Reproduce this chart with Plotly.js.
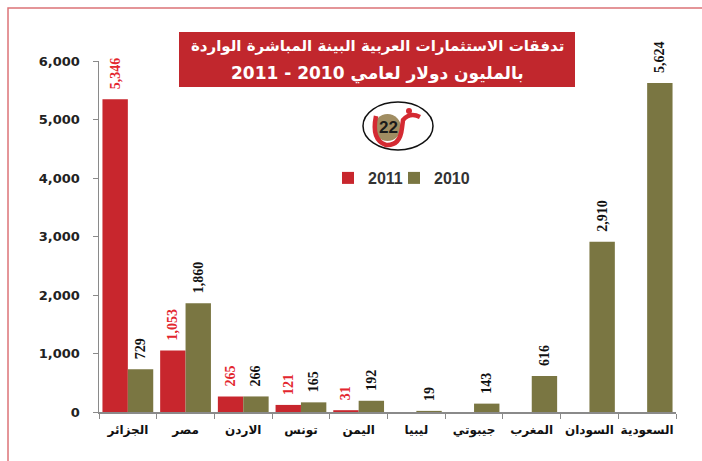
<!DOCTYPE html>
<html>
<head>
<meta charset="utf-8">
<script src="https://cdn.plot.ly/plotly-3.0.1.min.js"></script>
<style>html,body{margin:0;padding:0;background:#fff;}#chart{width:702px;height:461px;}</style>
</head>
<body>
<div id="chart"></div>
<script>
// Data
const categories = ["الجزائر", "مصر", "الاردن", "تونس", "اليمن", "ليبيا", "جيبوتي", "المغرب", "السودان", "السعودية"];
const values2011 = [5346, 1053, 265, 121, 31, null, null, null, null, null];
const values2010 = [729, 1860, 266, 165, 192, 19, 143, 616, 2910, 5624];
const seriesNames = ["2011", "2010"];
const titleLine1 = "تدفقات الاستثمارات العربية البينة المباشرة الواردة";
const titleLine2 = "2011 - 2010 بالمليون دولار لعامي";
const yTickVals = [0, 1000, 2000, 3000, 4000, 5000, 6000];

// Layout geometry (pixels)
const W = 702, H = 461;
const L = 99, R = 26, T = 61, B = 49;
const pw = W - L - R, ph = H - T - B;
const px = x => (x - L) / pw;
const py = y => (H - B - y) / ph;
function path(pts) {
  return pts.map(p => p[0] + ' ' + px(p[1]).toFixed(4) + ',' + py(p[2]).toFixed(4)).join(' ');
}

const RED = '#c8262d', OLIVE = '#7a7642';
const labelFont = {family: 'Liberation Serif, Times New Roman, serif', size: 14, weight: 700};
const legendFont = {family: 'Liberation Sans, Arial, sans-serif', size: 16, weight: 700, color: '#333'};

const traces = [
  {
    type: 'bar', name: seriesNames[0], x: categories, y: values2011,
    marker: {color: RED, line: {width: 0}}, legend: 'legend',
    texttemplate: '\u00a0\u00a0%{y:,}', textposition: 'outside', textangle: -90,
    textfont: Object.assign({color: '#e3262e'}, labelFont),
    cliponaxis: false, constraintext: 'none', hoverinfo: 'x+y'
  },
  {
    type: 'bar', name: seriesNames[1], x: categories, y: values2010,
    marker: {color: OLIVE, line: {width: 0}}, legend: 'legend2',
    texttemplate: '\u00a0\u00a0%{y:,}', textposition: 'outside', textangle: -90,
    textfont: Object.assign({color: '#111'}, labelFont),
    cliponaxis: false, constraintext: 'none', hoverinfo: 'x+y'
  }
];

const layout = {
  width: W, height: H,
  margin: {l: L, r: R, t: T, b: B, pad: 0},
  paper_bgcolor: '#fff', plot_bgcolor: '#fff',
  barmode: 'group', bargap: 0.12, bargroupgap: 0,
  showlegend: true,
  legend: {
    orientation: 'h', x: px(328), xanchor: 'left', y: py(178), yanchor: 'middle',
    font: legendFont, bgcolor: 'rgba(0,0,0,0)', itemwidth: 30
  },
  legend2: {
    orientation: 'h', x: px(394), xanchor: 'left', y: py(178), yanchor: 'middle',
    font: legendFont, bgcolor: 'rgba(0,0,0,0)', itemwidth: 30
  },
  xaxis: {
    type: 'category', showgrid: false, zeroline: false,
    showline: true, linecolor: '#8a8a8a', linewidth: 1.5,
    ticks: 'outside', tickson: 'boundaries', ticklen: 5, tickcolor: '#8a8a8a',
    tickangle: 0,
    tickfont: {family: 'DejaVu Sans, sans-serif', size: 12, weight: 700, color: '#111'},
    ticklabelstandoff: 6, fixedrange: true
  },
  yaxis: {
    range: [0, 6000], tickvals: yTickVals, tickformat: ',d',
    showgrid: false, zeroline: false,
    showline: true, linecolor: '#8a8a8a', linewidth: 1.5,
    ticks: 'outside', ticklen: 5, tickcolor: '#8a8a8a',
    tickfont: {family: 'DejaVu Sans, sans-serif', size: 13, weight: 700, color: '#222'},
    ticklabelstandoff: 10, fixedrange: true
  },
  shapes: [
    // outer frame (top and left)
    {type: 'path', xref: 'paper', yref: 'paper', layer: 'above',
     path: path([['M', 8, 461], ['L', 8, 8], ['L', 702, 8]]),
     line: {color: '#dc7377', width: 1.5}},
    // title box
    {type: 'rect', xref: 'paper', yref: 'paper', layer: 'above',
     x0: px(179), x1: px(575), y0: py(87), y1: py(32),
     fillcolor: '#c1272d', line: {width: 0}},
    // logo ellipse
    {type: 'circle', xref: 'paper', yref: 'paper', layer: 'above',
     x0: px(363), x1: px(433), y0: py(150), y1: py(102),
     fillcolor: '#fff', line: {color: '#111', width: 1.5}},
    // gold disc
    {type: 'circle', xref: 'paper', yref: 'paper', layer: 'above',
     x0: px(374), x1: px(401), y0: py(141), y1: py(114),
     fillcolor: '#a08d62', line: {width: 0}},
    // red letter stroke
    {type: 'path', xref: 'paper', yref: 'paper', layer: 'above',
     path: path([['M', 376, 116], ['Q', 371, 140], ['', 386, 145], ['Q', 400, 146], ['', 402, 128], ['L', 403, 120], ['Q', 410, 112], ['', 420, 117]]),
     line: {color: '#d42a32', width: 4.5}},
    // red dot
    {type: 'circle', xref: 'paper', yref: 'paper', layer: 'above',
     x0: px(406), x1: px(412), y0: py(114), y1: py(108),
     fillcolor: '#d42a32', line: {width: 0}}
  ],
  annotations: [
    {xref: 'paper', yref: 'paper', x: px(377), y: py(46), xanchor: 'center', yanchor: 'middle',
     text: titleLine1, showarrow: false,
     font: {family: 'DejaVu Sans, sans-serif', size: 15, weight: 700, color: '#fff'}},
    {xref: 'paper', yref: 'paper', x: px(377), y: py(73), xanchor: 'center', yanchor: 'middle',
     text: titleLine2, showarrow: false,
     font: {family: 'DejaVu Sans, sans-serif', size: 17, weight: 700, color: '#fff'}},
    {xref: 'paper', yref: 'paper', x: px(388), y: py(128), xanchor: 'center', yanchor: 'middle',
     text: '22', showarrow: false,
     font: {family: 'Liberation Sans, Arial, sans-serif', size: 17, weight: 700, color: '#1a1a1a'}}
  ]
};

Plotly.newPlot('chart', traces, layout, {displayModeBar: false, staticPlot: true});
</script>
</body>
</html>
